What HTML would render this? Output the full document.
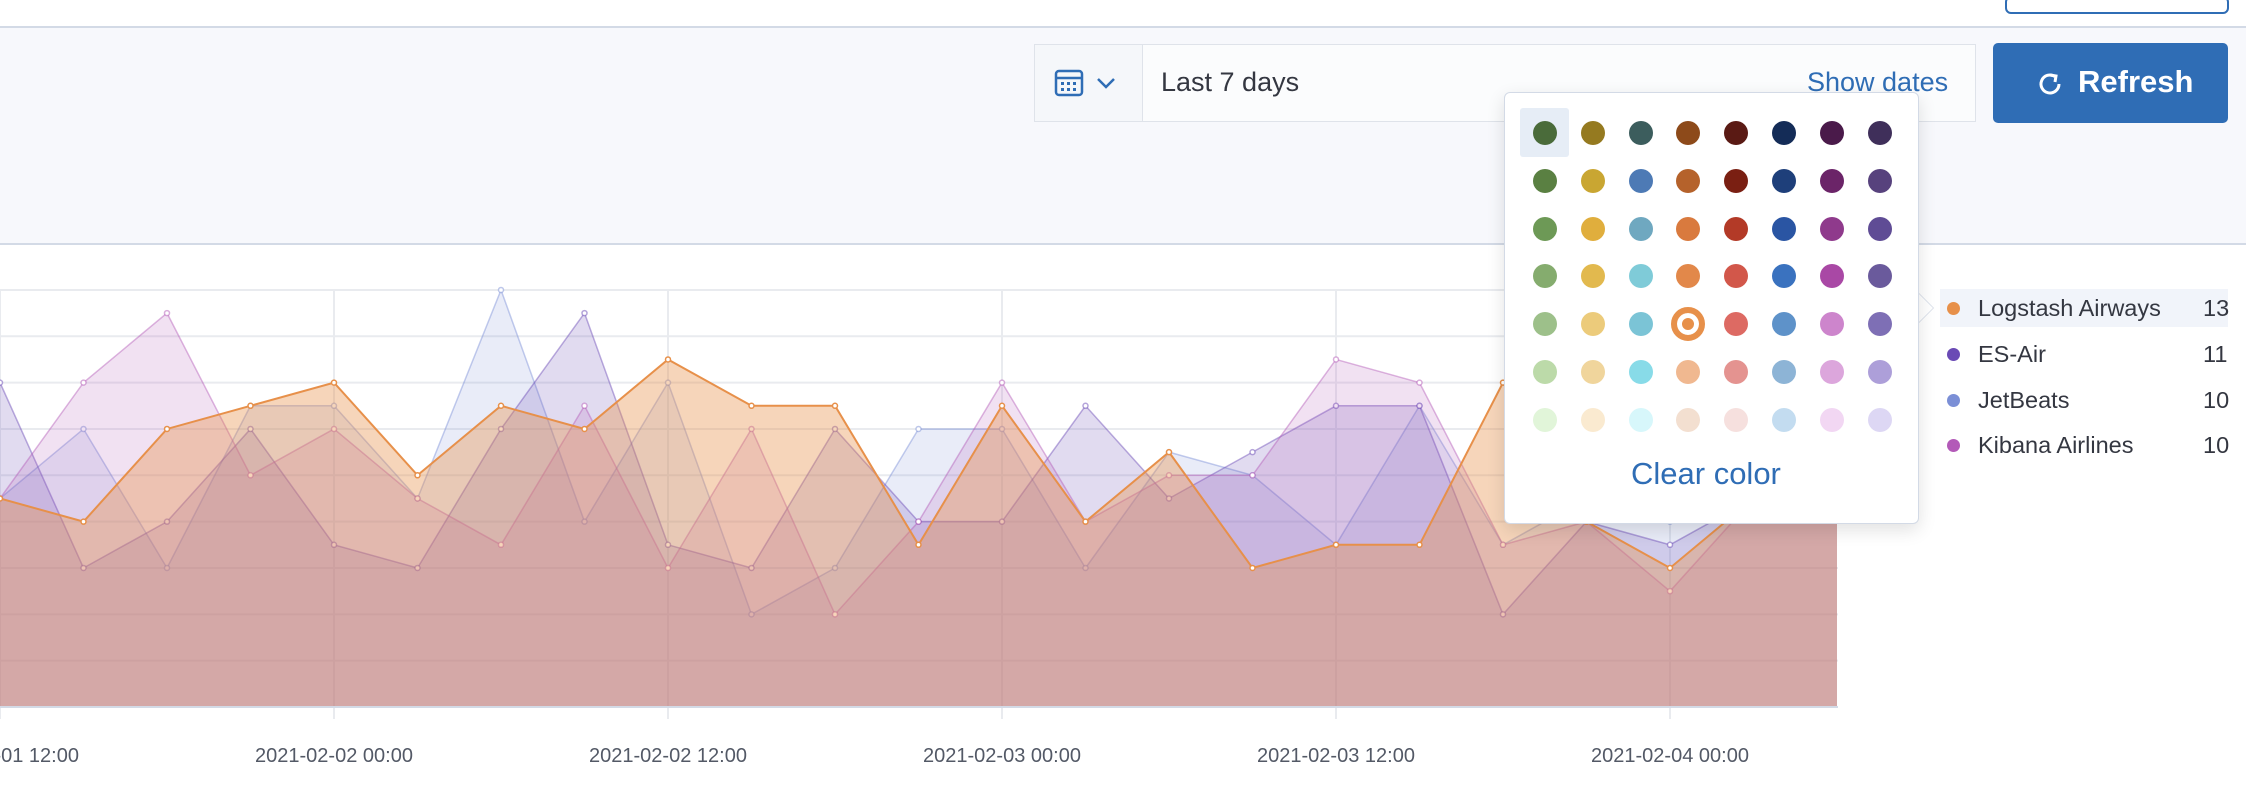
<!DOCTYPE html>
<html><head><meta charset="utf-8">
<style>
html,body{margin:0;padding:0;width:2246px;height:808px;overflow:hidden;background:#fff;font-family:"Liberation Sans",sans-serif;}
#top{position:absolute;left:0;top:0;width:2246px;height:26px;background:#fff;border-bottom:2px solid #d3dae6;box-shadow:0 2px 4px rgba(0,0,0,0.06);}
#topbtn{position:absolute;left:2005px;top:-4px;width:220px;height:14px;border:2px solid #2f6db5;border-radius:6px;background:#fff;}
#band{position:absolute;left:0;top:28px;width:2246px;height:215px;background:#f7f8fc;border-bottom:2px solid #d3dae6;}
#picker{position:absolute;left:1034px;top:44px;width:942px;height:78px;background:#fbfcfd;border:1px solid #dfe3ea;box-sizing:border-box;}
#cal{position:absolute;left:0;top:0;width:107px;height:76px;border-right:1px solid #dfe3ea;background:#f5f7fa;}
#lbl{position:absolute;left:126px;top:22px;font-size:27px;color:#343741;}
#show{position:absolute;left:772px;top:22px;font-size:27px;color:#2f6db5;}
#refresh{position:absolute;left:1993px;top:43px;width:235px;height:80px;background:#2f6db5;border-radius:5px;color:#fff;font-size:31px;font-weight:bold;}
#refresh span{position:absolute;left:85px;top:21px;}
#pop{position:absolute;left:1504px;top:92px;width:415px;height:432px;background:#fff;border:1px solid #d3dae6;border-radius:6px;box-shadow:0 6px 18px rgba(0,0,0,0.12);box-sizing:border-box;}
#arrow{position:absolute;left:1917px;top:292px;width:0;height:0;border-top:16px solid transparent;border-bottom:16px solid transparent;border-left:16px solid #fff;filter:drop-shadow(1px 0 0 #d3dae6);}
.sw{position:absolute;width:24px;height:24px;border-radius:50%;}
#clear{position:absolute;left:1631px;top:456px;font-size:31px;color:#2f6db5;}
.leg{position:absolute;left:1940px;width:288px;height:38px;font-size:23.5px;color:#343741;}
.leg .d{position:absolute;left:7px;top:13px;width:13px;height:13px;border-radius:50%;}
.leg .t{position:absolute;left:38px;top:6px;}
.leg .v{position:absolute;left:263px;top:6px;}
</style></head><body>
<div id="top"><div id="topbtn"></div></div>
<div id="band"></div>
<div id="picker">
 <div id="cal">
  <svg width="107" height="76">
   <rect x="21" y="26" width="26" height="24" rx="3" fill="none" stroke="#2f6db5" stroke-width="2.5"/>
   <line x1="21" y1="33" x2="47" y2="33" stroke="#2f6db5" stroke-width="2.5"/>
   <g fill="#2f6db5"><rect x="26" y="37" width="3" height="3"/><rect x="32" y="37" width="3" height="3"/><rect x="38" y="37" width="3" height="3"/><rect x="26" y="43" width="3" height="3"/><rect x="32" y="43" width="3" height="3"/><rect x="38" y="43" width="3" height="3"/></g>
   <polyline points="63,34 71,42 79,34" fill="none" stroke="#2f6db5" stroke-width="2.5"/>
  </svg>
 </div>
 <div id="lbl">Last 7 days</div>
 <div id="show">Show dates</div>
</div>
<div id="refresh">
 <svg style="position:absolute;left:44px;top:27px" width="28" height="28"><path d="M22 14 A9 9 0 1 1 18 6.5" fill="none" stroke="#fff" stroke-width="3"/><polyline points="13,5 19,6 18,12" fill="none" stroke="#fff" stroke-width="3"/></svg>
 <span>Refresh</span>
</div>

<svg id="chart" style="position:absolute;left:0;top:0" width="2246" height="808"></svg>

<div id="arrow"></div>
<div id="pop"></div>
<div id="clear">Clear color</div>

<div class="leg" style="top:289px;background:#f1f4fa"><div class="d" style="background:#e7904a"></div><span class="t">Logstash Airways</span><span class="v">13</span></div>
<div class="leg" style="top:335px"><div class="d" style="background:#6a4ab5"></div><span class="t">ES-Air</span><span class="v">11</span></div>
<div class="leg" style="top:381px"><div class="d" style="background:#7b8fd6"></div><span class="t">JetBeats</span><span class="v">10</span></div>
<div class="leg" style="top:426px"><div class="d" style="background:#b35ab8"></div><span class="t">Kibana Airlines</span><span class="v">10</span></div>

<script>
const tickLabels = ["2021-02-01 12:00","2021-02-02 00:00","2021-02-02 12:00","2021-02-03 00:00","2021-02-03 12:00","2021-02-04 00:00"];
const logstash = [9,8,12,13,14,10,13,12,15,13,13,7,13,8,11,6,7,7,14,8,6,9,9];
const esAir    = [14,6,8,12,7,6,12,17,7,6,12,8,8,13,9,11,13,13,4,8,7,9,9];
const jetBeats = [9,12,6,13,13,9,18,8,14,4,6,12,12,6,11,10,7,13,7,9,8,9,9];
const kibana   = [9,14,17,10,12,9,7,13,6,12,4,8,14,8,10,10,15,14,7,8,5,9,9];
const seriesNames = ["jetbeats","es-air","kibana-airlines","logstash-airways"];

const NS="http://www.w3.org/2000/svg";
const svg=document.getElementById('chart');
const X0=0, STEP=83.5, Y0=707, UNIT=23.17;
const xS=i=>X0+i*STEP, yS=v=>Y0-v*UNIT;
function mk(t,a){const e=document.createElementNS(NS,t);for(const k in a)e.setAttribute(k,a[k]);svg.appendChild(e);return e;}
for(let g=0;g<=18;g+=2){const l=mk('line',{x1:0,x2:1838,y1:yS(g),y2:yS(g),stroke:'#e9ebef','stroke-width':2});

}
tickLabels.forEach((t,i)=>{const x=xS(i*4);
const l=mk('line',{x1:x,x2:x,y1:yS(18),y2:Y0+12,stroke:'#e9ebef','stroke-width':2});


const tx=mk('text',{x:x,y:762,'text-anchor':'middle','font-size':20,fill:'#535966','font-family':'Liberation Sans, sans-serif'});
tx.textContent=t;

});
const series=[[jetBeats,'#7b8fd6',0.17],[esAir,'#6a4ab5',0.2],[kibana,'#b35ab8',0.18],[logstash,'#e7904a',0.38]];
series.forEach(([d,c,o],si)=>{
 const pts=d.map((v,i)=>xS(i)+','+yS(v)).join(' ');
 const a=mk('polygon',{points:xS(0)+','+Y0+' '+pts+' '+xS(d.length-1)+','+Y0,fill:c,'fill-opacity':o});
 
 
 const l=mk('polyline',{points:pts,fill:'none',stroke:c,'stroke-width':si==3?2:1.5,'stroke-opacity':si==3?1:0.45});
 
 
 d.forEach((v,i)=>{const p=mk('circle',{cx:xS(i),cy:yS(v),r:2.5,fill:'#fff',stroke:c,'stroke-width':1.5,'stroke-opacity':si==3?1:0.5});
 
 });
});
mk('line',{x1:0,x2:1838,y1:Y0,y2:Y0,stroke:'#d3dae6','stroke-width':2});

const swatches=[
["#4a6b3a","#957a20","#3c5d5d","#8d4a1a","#5a1a14","#142c57","#4a1a4a","#3f2f5a"],
["#5a8042","#c9a632","#4d7ab5","#b5622b","#7a1f12","#1e3f7a","#6b2468","#57427d"],
["#6d9956","#e0ae3d","#6fa8c0","#d97a3e","#b33a27","#2a55a3","#8f3a8c","#5f4c95"],
["#85ac6e","#e2b94e","#7fcbd8","#e2884a","#d2574a","#3a72bf","#a948a5","#6a5a9c"],
["#9dc08a","#eccb7b","#7bc4d6","#e7904a","#dd6a63","#5e92c9","#cd85cc","#7e6fb5"],
["#bcdaa9","#f0d59c","#88dbe8","#f0b890","#e49390","#8db4d6","#dca6dc","#ad9fd9"],
["#e1f5d9","#faead0","#d7f7fb","#f3dfd0","#f6e0de","#c3dcf0","#f2d7f3","#ddd7f4"]];
const pop=document.getElementById('pop');
const hl=document.createElement('div');
hl.style.cssText='position:absolute;left:15px;top:15px;width:49px;height:49px;background:#e6edf6;border-radius:3px;';


pop.appendChild(hl);
swatches.forEach((row,r)=>row.forEach((c,ci)=>{
 const s=document.createElement('div');s.className='sw';
 const cx=40+ci*47.8, cy=40+r*47.8;
 s.style.left=(cx-12)+'px';s.style.top=(cy-12)+'px';s.style.background=c;
 if(r==4&&ci==3){s.style.width='22px';s.style.height='22px';s.style.left=(cx-17)+'px';s.style.top=(cy-17)+'px';s.style.background='#fff';s.style.border='6px solid '+c;s.style.boxShadow='inset 0 0 0 5px #fff, inset 0 0 0 11px '+c;}
 
 
 pop.appendChild(s);
}));
</script>
</body></html>
